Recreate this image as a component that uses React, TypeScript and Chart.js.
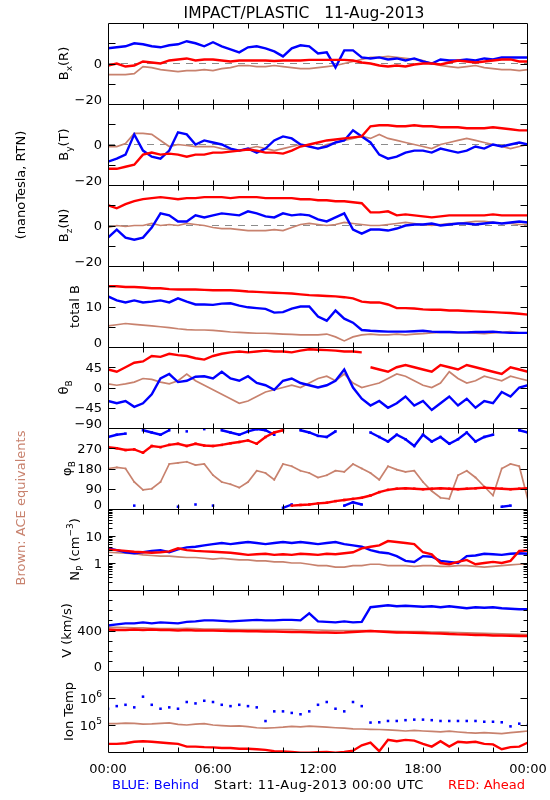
import React, { useEffect, useRef } from 'react';
import { Chart, registerables } from 'chart.js';

Chart.register(...registerables);

// ---------- time axis ----------
const HOURS = [0,0.5,1,1.5,2,2.5,3,3.5,4,4.5,5,5.5,6,6.5,7,7.5,8,8.5,9,9.5,10,10.5,11,11.5,12,12.5,13,13.5,14,14.5,15,15.5,16,16.5,17,17.5,18,18.5,19,19.5,20,20.5,21,21.5,22,22.5,23,23.5,24];
const X_TICK_HOURS = [2,4,6,8,10,12,14,16,18,20,22];
const X_LABEL_HOURS = [0,6,12,18,24];
const X_LABELS = ['00:00','06:00','12:00','18:00','00:00'];

// ---------- Bx (R) ----------
const BX_BEHIND = [7.5,8,8.5,10,9.5,8.5,8,9,9.5,11,10,8.5,10.5,8.5,7,5.5,8,8.5,7.5,6,3.5,7.5,9,8.5,5,5.5,-2,6.5,6.5,3,2.5,3,2,2.5,1.5,2.5,1,0,2,1.5,1.5,2,1.5,2.5,2,3,3,3,3];
const BX_AHEAD = [-1,0,-1.5,-1,1,0.5,0,1.5,2,2.5,1.5,2,2,1.5,1,1.5,1.5,1.5,1.5,1.2,1.5,1.5,1.5,1.8,1.8,1.8,1.8,1.8,1.5,0.5,0,-1,-1.5,-1,-1.5,-0.5,0,0,-0.5,0.5,1.5,1,0.5,1,1.5,2,2,1,1];
const BX_ACE = [-5.5,-5.5,-5.5,-5,-1.5,-2,-3,-3.5,-4,-3.5,-3.5,-3,-3.5,-2.5,-2,-1,-1,-1.5,-1.5,-1,-1.5,-2,-2.5,-2.5,-2,-1.5,-1,0,1,2,3,3,3.5,3,2.5,2,1.5,0,-1,-1.5,-2,-1.5,-1,-2,-2.5,-3,-3,-3.5,-3];

// ---------- By (T) ----------
const BY_BEHIND = [-8.5,-7,-5,5,-3,-6,-7,-3,6,5,0,2,1,0,-2,-3,-2,-4,-2,2,4,3,0,-1,-2,-1,1,2,7,4,1,-5,-7,-6,-4,-3,-3,-4,-2,-3,-4,-3,-1,-2,0,-1,0,1,0];
const BY_AHEAD = [-12,-12,-11,-10,-5,-4,-5,-4.5,-5,-6,-5,-5,-4,-4,-3.5,-3,-2.5,-3,-4,-4,-4.5,-3,-1,0,1,2,2.5,3,3.5,4,9,9.5,9.5,9,9,9.5,9,9,8.5,8.5,8.5,8,8,8,8.5,8,7.5,7,7];
const BY_ACE = [-1,-1,0.5,5.5,5.5,5,2,-1,0,-0.5,-1,-1,-1,-2,-2.5,-3,-2,-1,-2,-3,-2,-1,0,-1,-2,0,1,2,3,4,3,5,3,2,1,0,-1,-2,0,1,2,3,2,1,0,-1,-2,-1,0];

// ---------- Bz (N) ----------
const BZ_BEHIND = [-6,-2,-6,-7,-6,-1,6,5,2,2,5,4,5,6,5.5,5,7,6,4.5,4,6,5,5.5,5,3,2,4,6,-2,-4,-2,-2,-2.5,-1.5,0,0.5,0.5,1,0,0.5,1,1,0.5,1,1.5,1,1.5,2,1.5];
const BZ_AHEAD = [10,8.5,10.5,12,13,13.5,14,13.5,13,13.5,13.5,14,14,14,13.5,14,14,14,13.5,13.5,13.5,13.5,13,13,12.5,12.5,12,12,11.5,11,6.5,6.5,7,5,5.5,5,4.5,4,4.5,5,5,5,5,5,5.5,5,5,5,5];
const BZ_ACE = [-1,0,-0.5,0,0,1,0,0.5,0,1,0.5,0,-1,-1.5,-1.5,-2,-2.5,-2.5,-2.5,-2,-2.5,-1,0.5,1,0.5,0,0.5,1.5,1,0.5,0,0,0.5,1,1.5,1,0.5,0,0.5,1,1,1.5,2,2,1.5,1,1,0.5,0.5];

// ---------- total B ----------
const BT_BEHIND = [12.5,11.5,11,11.5,11,11.2,11.5,11,12,11.2,10.5,10.5,10.4,10.7,10.8,10.2,9.8,9.6,9.4,8.5,8.6,9.5,10,10,7.5,6.5,9,7,6,4.2,4,3.9,3.8,3.8,3.8,3.9,4,3.8,3.7,3.7,3.6,3.6,3.7,3.7,3.8,3.6,3.5,3.5,3.5];
const BT_AHEAD = [15,15,14.8,14.8,14.7,14.5,14.5,14.3,14.2,14.2,14.2,14.1,14,14,14,13.9,13.7,13.6,13.5,13.4,13.3,13.2,13,12.8,12.7,12.6,12.5,12.3,12,11.2,11,11,10.5,9.6,9.6,9.5,9.3,9.2,9.2,9,9,8.9,8.8,8.7,8.6,8.5,8.4,8.2,8];
const BT_ACE = [5.2,5.5,5.8,5.6,5.4,5.2,5,4.8,4.5,4.3,4.2,4.2,4.1,3.9,3.7,3.6,3.5,3.4,3.4,3.3,3.2,3.1,3,3,3,3.2,2.5,1.5,2.5,3,3.2,3,3,3.2,3,3.2,3.3,3.5,3.6,3.6,3.5,3.5,3.4,3.3,3.5,3.6,3.8,3.5,3.5];

// ---------- theta B ----------
const TH_BEHIND = [-30,-35,-30,-43,-35,-15,20,30,12,15,24,25,20,35,20,15,25,10,5,-5,15,20,10,5,0,5,15,40,0,-25,-40,-30,-45,-35,-20,-40,-30,-50,-35,-20,-40,-25,-45,-30,-35,-10,-20,0,5];
const TH_AHEAD = [40,35,45,55,58,70,68,75,72,70,65,62,70,75,78,80,78,80,82,80,80,78,82,85,84,83,82,80,80,78,45,40,35,45,50,45,40,35,50,45,40,50,45,40,35,30,45,40,35];
const TH_ACE = [8,5,8,12,20,18,12,8,15,30,15,5,-5,-15,-25,-35,-30,-20,-10,-5,0,5,0,10,20,25,15,30,10,0,5,10,20,30,25,15,5,0,10,35,20,10,15,25,20,15,25,20,15];

// ---------- phi B ----------
const PH_BEHIND = [320,330,335,15,350,340,330,350,10,345,20,355,15,350,340,330,345,355,350,330,5,20,350,340,325,320,345,15,30,20,340,320,300,330,310,280,330,300,320,290,310,340,300,320,330,10,15,350,340];
const PH_AHEAD = [275,270,262,265,250,280,275,285,290,280,290,282,280,285,292,298,305,290,320,340,350,15,18,20,25,28,35,40,45,50,60,75,85,90,92,90,88,90,92,90,88,90,92,95,92,90,88,90,92];
const PH_ACE = [180,185,180,120,85,90,120,200,205,210,195,200,150,120,110,95,120,170,160,130,200,190,170,160,140,150,170,165,200,180,160,130,190,175,165,170,120,80,50,45,150,170,140,100,60,180,200,190,40];

// ---------- proton density (cm^-3) ----------
const NP_BEHIND = [3.5,3,2.5,2.3,2.5,2.8,3,2.5,3.2,3.8,4,4.5,5,5.5,5,5.5,6,5.5,5,5.5,6,5.5,6,5.5,5,5.5,6,5,4.5,4,3,2.5,2.3,1.8,1.2,1.1,1.8,1.7,1.2,1.1,1.0,1.8,1.9,2.2,2.1,2.0,2.2,2.3,2.2];
const NP_AHEAD = [3.2,3,2.8,2.6,2.5,2.4,2.5,2.7,3.5,3,2.8,2.7,2.6,2.5,2.4,2.2,2.0,2.1,2.2,2.0,2.1,2.0,2.2,2.1,2.0,2.2,2.1,2.3,2.5,3.5,4,4.5,6.5,6,5.5,5,2.5,2.1,1.0,0.9,1.1,1.3,0.9,1.0,1.1,1.0,1.2,2.8,2.9];
const NP_ACE = [2.5,2.4,2.3,2.2,2.0,1.9,1.8,1.8,1.7,1.6,1.6,1.5,1.4,1.5,1.4,1.3,1.3,1.2,1.2,1.1,1.1,1.0,1.0,0.9,0.8,0.8,0.7,0.7,0.8,0.8,0.9,0.9,0.8,0.8,0.8,0.75,0.8,0.8,0.75,0.75,0.8,0.8,0.75,0.7,0.75,0.8,0.85,0.9,0.9];

// ---------- speed (km/s) ----------
const V_BEHIND = [450,460,470,470,480,470,480,475,470,485,490,500,500,495,490,495,500,505,500,500,505,505,500,570,490,485,480,490,480,485,630,640,650,640,645,640,635,640,630,640,630,620,630,625,630,620,615,610,610];
const V_AHEAD = [410,405,405,410,405,410,405,405,400,405,400,400,400,398,395,395,392,392,390,390,388,385,385,382,380,380,378,380,385,390,395,390,385,380,380,378,375,372,370,365,362,360,355,355,350,350,348,345,345];
const V_ACE = [430,430,428,425,425,422,420,420,418,420,418,415,415,415,412,410,410,408,408,410,410,408,405,405,405,402,400,400,398,400,398,395,395,392,390,390,388,385,385,382,380,378,375,372,370,368,365,362,360];

// ---------- ion temperature (K) ----------
const T_BEHIND = [400000,500000,560000,450000,1120000,560000,400000,450000,400000,710000,630000,790000,710000,560000,500000,560000,500000,450000,140000,320000,320000,280000,250000,320000,560000,710000,400000,320000,710000,500000,123000,126000,141000,141000,151000,158000,158000,151000,141000,141000,141000,141000,141000,132000,132000,126000,89000,112000,100000];
const T_AHEAD = [20000,20000,21000,24000,25000,24000,22400,21000,20000,15800,15800,15100,14800,14100,14100,13200,13200,12600,12000,10700,10500,10000,9500,9500,9800,10000,9500,10000,11200,17800,22400,10700,28200,25100,28200,26300,20000,15800,25100,15800,24000,22400,24000,20000,19100,12600,15100,15800,22400];
const T_ACE = [112000,112000,117000,115000,107000,110000,115000,120000,105000,100000,107000,112000,100000,95000,91000,93000,87000,79000,76000,79000,83000,89000,85000,91000,87000,83000,79000,76000,72000,71000,69000,68000,66000,63000,60000,63000,60000,58000,56000,59000,55000,52000,50000,52000,50000,48000,52000,56000,60000];

// ---------- y tick marks and labels ----------
const B_MAJOR = [-10, 0, 10];
const B_LABEL_VALUES = [0, -20];
const B_LABELS = ['0', '−20'];
const BT_MAJOR = [5, 10, 15];
const BT_LABEL_VALUES = [10, 0];
const BT_LABELS = ['10', '0'];
const TH_MAJOR = [-45, 0, 45];
const TH_LABEL_VALUES = [45, 0, -45, -90];
const TH_LABELS = ['45', '0', '−45', '−90'];
const PH_MAJOR = [90, 180, 270];
const PH_LABEL_VALUES = [270, 180, 90, 0];
const PH_LABELS = ['270', '180', '90', '0'];
const NP_MAJOR = [1, 10];
const NP_MINOR = [0.2,0.3,0.4,0.5,0.6,0.7,0.8,0.9,2,3,4,5,6,7,8,9,20,30,40,50,60,70,80,90];
const NP_LABEL_VALUES = [10, 1];
const NP_LABELS = ['10', '1'];
const V_MAJOR = [400];
const V_MINOR = [100, 200, 300, 500, 600, 700];
const V_LABEL_VALUES = [400, 0];
const V_LABELS = ['400', '0'];
const T_MAJOR = [100000, 1000000];
const T_LABEL_VALUES = [1000000, 100000];
const T_LABELS = ['10^{6}', '10^{5}'];

const FONT = "'DejaVu Sans', 'Liberation Sans', sans-serif";
const BLUE = '#0000ff';
const RED = '#ff0000';
const BROWN = '#c8826e';

type Panel = {
  kind: 'linear' | 'logarithmic';
  min: number; max: number;
  major: number[]; minor: number[];
  labelValues: number[]; labels: string[];
  title: string;
  zero?: boolean;
  behind: number[]; ahead: number[]; ace: number[];
  wrap?: number; aheadGap?: number; dotsBehind?: boolean;
};

const PANELS: Panel[] = [
  { kind: 'linear', min: -20, max: 20, major: B_MAJOR, minor: [], labelValues: B_LABEL_VALUES, labels: B_LABELS, title: 'B_{x}(R)', zero: true, behind: BX_BEHIND, ahead: BX_AHEAD, ace: BX_ACE },
  { kind: 'linear', min: -20, max: 20, major: B_MAJOR, minor: [], labelValues: B_LABEL_VALUES, labels: B_LABELS, title: 'B_{y}(T)', zero: true, behind: BY_BEHIND, ahead: BY_AHEAD, ace: BY_ACE },
  { kind: 'linear', min: -20, max: 20, major: B_MAJOR, minor: [], labelValues: B_LABEL_VALUES, labels: B_LABELS, title: 'B_{z}(N)', zero: true, behind: BZ_BEHIND, ahead: BZ_AHEAD, ace: BZ_ACE },
  { kind: 'linear', min: 0, max: 20, major: BT_MAJOR, minor: [], labelValues: BT_LABEL_VALUES, labels: BT_LABELS, title: 'total B', behind: BT_BEHIND, ahead: BT_AHEAD, ace: BT_ACE },
  { kind: 'linear', min: -90, max: 90, major: TH_MAJOR, minor: [], labelValues: TH_LABEL_VALUES, labels: TH_LABELS, title: 'θ_{B}', behind: TH_BEHIND, ahead: TH_AHEAD, ace: TH_ACE, aheadGap: 30 },
  { kind: 'linear', min: 0, max: 360, major: PH_MAJOR, minor: [], labelValues: PH_LABEL_VALUES, labels: PH_LABELS, title: 'φ_{B}', behind: PH_BEHIND, ahead: PH_AHEAD, ace: PH_ACE, wrap: 180 },
  { kind: 'logarithmic', min: 0.1, max: 100, major: NP_MAJOR, minor: NP_MINOR, labelValues: NP_LABEL_VALUES, labels: NP_LABELS, title: 'N_{P} (cm^{−3})', behind: NP_BEHIND, ahead: NP_AHEAD, ace: NP_ACE },
  { kind: 'linear', min: 0, max: 800, major: V_MAJOR, minor: V_MINOR, labelValues: V_LABEL_VALUES, labels: V_LABELS, title: 'V (km/s)', behind: V_BEHIND, ahead: V_AHEAD, ace: V_ACE },
  { kind: 'logarithmic', min: 10000, max: 10000000, major: T_MAJOR, minor: [], labelValues: T_LABEL_VALUES, labels: T_LABELS, title: 'Ion Temp', behind: T_BEHIND, ahead: T_AHEAD, ace: T_ACE, dotsBehind: true },
];

// ---------- rich text helpers ----------
type Seg = { t: string; k: 'n' | 'sub' | 'sup' };
function parseRich(s: string): Seg[] {
  const out: Seg[] = [];
  const re = /([_^])\{([^}]*)\}/g;
  let last = 0;
  let m: RegExpExecArray | null;
  while ((m = re.exec(s))) {
    if (m.index > last) out.push({ t: s.slice(last, m.index), k: 'n' });
    out.push({ t: m[2], k: m[1] === '_' ? 'sub' : 'sup' });
    last = re.lastIndex;
  }
  if (last < s.length) out.push({ t: s.slice(last), k: 'n' });
  return out;
}
const fnt = (size: number) => `${size}px ${FONT}`;
function segSize(k: string, size: number) { return k === 'n' ? size : Math.round(size * 0.72); }
function richWidth(ctx: CanvasRenderingContext2D, segs: Seg[], size: number) {
  let w = 0;
  for (const sg of segs) { ctx.font = fnt(segSize(sg.k, size)); w += ctx.measureText(sg.t).width; }
  return w;
}
function drawRich(ctx: CanvasRenderingContext2D, x: number, baseline: number, segs: Seg[], size: number) {
  let cx = x;
  for (const sg of segs) {
    ctx.font = fnt(segSize(sg.k, size));
    const dy = sg.k === 'sub' ? size * 0.32 : sg.k === 'sup' ? -size * 0.45 : 0;
    ctx.fillText(sg.t, cx, baseline + dy);
    cx += ctx.measureText(sg.t).width;
  }
}
function drawRotated(ctx: CanvasRenderingContext2D, cx: number, cy: number, text: string, size: number, color: string) {
  const segs = parseRich(text);
  ctx.save();
  ctx.fillStyle = color;
  ctx.textAlign = 'left';
  ctx.textBaseline = 'alphabetic';
  ctx.translate(cx, cy);
  ctx.rotate(-Math.PI / 2);
  const w = richWidth(ctx, segs, size);
  drawRich(ctx, -w / 2, size * 0.36, segs, size);
  ctx.restore();
}

const framePlugin = {
  id: 'panelFrames',
  beforeDatasetDraw(chart: any, args: any) {
    const ys = args.meta.yScale;
    const a = chart.chartArea;
    chart.ctx.save();
    chart.ctx.beginPath();
    chart.ctx.rect(a.left, ys.top, a.right - a.left, ys.bottom - ys.top);
    chart.ctx.clip();
  },
  afterDatasetDraw(chart: any) {
    chart.ctx.restore();
  },
  afterDraw(chart: any) {
    const ctx: CanvasRenderingContext2D = chart.ctx;
    const a = chart.chartArea;
    const xs = chart.scales.x;
    const left = Math.round(a.left) + 0.5;
    const right = Math.round(a.right) - 0.5;
    const labelRight = a.left - 6;
    ctx.save();
    ctx.strokeStyle = '#000';
    ctx.lineWidth = 1;
    PANELS.forEach((p, i) => {
      const ys = chart.scales['y' + i];
      const top = Math.round(ys.top) + 0.5;
      const bottom = Math.round(ys.bottom) + 0.5;
      ctx.beginPath();
      ctx.rect(left, top, right - left, bottom - top);
      for (const h of X_TICK_HOURS) {
        const px = Math.round(xs.getPixelForValue(h)) + 0.5;
        ctx.moveTo(px, top); ctx.lineTo(px, top + 5);
        ctx.moveTo(px, bottom); ctx.lineTo(px, bottom - 5);
      }
      const tick = (v: number, len: number) => {
        const py = Math.round(ys.getPixelForValue(v)) + 0.5;
        ctx.moveTo(left, py); ctx.lineTo(left + len, py);
        ctx.moveTo(right, py); ctx.lineTo(right - len, py);
      };
      p.major.forEach(v => tick(v, 7));
      p.minor.forEach(v => tick(v, 4));
      ctx.stroke();

      // tick labels
      ctx.fillStyle = '#000';
      ctx.textAlign = 'left';
      ctx.textBaseline = 'alphabetic';
      let maxW = 0;
      p.labelValues.forEach((v, j) => {
        const segs = parseRich(p.labels[j]);
        const w = richWidth(ctx, segs, 13);
        maxW = Math.max(maxW, w);
        let py = ys.getPixelForValue(v);
        if (v === p.min) py -= 4.5;
        drawRich(ctx, labelRight - w, py + 4.7, segs, 13);
      });
      // axis title
      const cx = labelRight - maxW - 11;
      drawRotated(ctx, cx, (ys.top + ys.bottom) / 2, p.title, 13, '#000');
    });

    // x labels
    ctx.fillStyle = '#000';
    ctx.font = fnt(13);
    ctx.textAlign = 'center';
    ctx.textBaseline = 'alphabetic';
    X_LABEL_HOURS.forEach((h, j) => {
      ctx.fillText(X_LABELS[j], xs.getPixelForValue(h), 773);
    });

    // title
    ctx.font = fnt(15.5);
    ctx.fillText('IMPACT/PLASTIC   11-Aug-2013', 304, 18);

    // footer
    ctx.font = fnt(13);
    ctx.textAlign = 'left';
    ctx.fillStyle = BLUE;
    ctx.fillText('BLUE: Behind', 112, 789);
    ctx.textAlign = 'center';
    ctx.fillStyle = '#000';
    (ctx as any).letterSpacing = '0.5px';
    ctx.fillText('Start: 11-Aug-2013 00:00 UTC', 319, 789);
    (ctx as any).letterSpacing = '0px';
    ctx.textAlign = 'right';
    ctx.fillStyle = RED;
    ctx.fillText('RED: Ahead', 525, 789);

    // side labels
    drawRotated(ctx, 20, 185, '(nanoTesla, RTN)', 13, '#000');
    drawRotated(ctx, 20, 508, 'Brown: ACE equivalents', 13, BROWN);
    ctx.restore();
  },
};

function series(arr: number[], yAxisID: string, color: string, width: number, extra: any = {}) {
  return {
    data: HOURS.map((h, i) => ({ x: h, y: arr[i] })),
    yAxisID,
    xAxisID: 'x',
    borderColor: color,
    backgroundColor: color,
    borderWidth: width,
    pointRadius: 0,
    pointHoverRadius: 0,
    tension: 0,
    spanGaps: false,
    ...extra,
  };
}
function gapSegment(gap: number, log: boolean) {
  return {
    borderColor: (c: any) => {
      const a = c.p0.parsed.y, b = c.p1.parsed.y;
      const d = log ? Math.abs(Math.log10(b) - Math.log10(a)) : Math.abs(b - a);
      return d > gap ? 'rgba(0,0,0,0)' : undefined;
    },
  };
}

function buildConfig(): any {
  const scales: any = {
    x: {
      type: 'linear', position: 'bottom', min: 0, max: 24,
      grid: { display: false, drawTicks: false }, border: { display: false },
      ticks: { display: false },
      afterFit: (s: any) => { s.height = 48; s.paddingLeft = 0; s.paddingRight = 0; },
    },
  };
  const datasets: any[] = [];
  const zeroSets: any[] = [];
  PANELS.forEach((p, i) => {
    const id = 'y' + i;
    scales[id] = {
      type: p.kind, position: 'left', stack: 'panels', stackWeight: 1, weight: PANELS.length - i,
      min: p.min, max: p.max,
      grid: { display: false, drawTicks: false }, border: { display: false },
      ticks: { display: false },
      afterFit: (s: any) => { s.width = 108; s.paddingTop = 0; s.paddingBottom = 0; },
    };
    const log = p.kind === 'logarithmic';
    const aheadExtra: any = {};
    const behindExtra: any = {};
    const aceExtra: any = {};
    if (p.wrap) {
      const seg = gapSegment(p.wrap, false);
      Object.assign(aheadExtra, { segment: seg, pointRadius: 1.8, pointStyle: 'rect', pointBorderWidth: 0 });
      Object.assign(behindExtra, { segment: seg, pointRadius: 1.8, pointStyle: 'rect', pointBorderWidth: 0 });
      Object.assign(aceExtra, { segment: seg, pointRadius: 1.2, pointStyle: 'rect', pointBorderWidth: 0 });
    }
    if (p.aheadGap) Object.assign(aheadExtra, { segment: gapSegment(p.aheadGap, log) });
    if (p.dotsBehind) Object.assign(behindExtra, { showLine: false, pointRadius: 1.8, pointStyle: 'rect', pointBorderWidth: 0 });
    datasets.push(series(p.ahead, id, RED, 2.4, aheadExtra));
    datasets.push(series(p.behind, id, BLUE, 2.4, behindExtra));
    datasets.push(series(p.ace, id, BROWN, 1.7, aceExtra));
    if (p.zero) {
      zeroSets.push({
        data: [{ x: 0, y: 0 }, { x: 24, y: 0 }], yAxisID: id, xAxisID: 'x',
        borderColor: '#8c8c8c', borderWidth: 1, borderDash: [7, 6], pointRadius: 0, pointHoverRadius: 0,
      });
    }
  });
  return {
    type: 'line',
    data: { datasets: datasets.concat(zeroSets) },
    options: {
      responsive: false,
      animation: false,
      devicePixelRatio: 1,
      events: [],
      layout: { padding: { top: 23, right: 22, bottom: 0, left: 0 } },
      plugins: { legend: { display: false }, tooltip: { enabled: false }, title: { display: false } },
      scales,
    },
    plugins: [framePlugin],
  };
}

export default function App() {
  const ref = useRef<HTMLCanvasElement | null>(null);
  useEffect(() => {
    Chart.defaults.font.family = FONT;
    const chart = new Chart(ref.current as HTMLCanvasElement, buildConfig());
    return () => chart.destroy();
  }, []);
  return (
    <div style={{ position: 'absolute', left: 0, top: 0, width: 550, height: 800, background: '#fff' }}>
      <canvas ref={ref} width={550} height={800} style={{ display: 'block', width: 550, height: 800 }} />
    </div>
  );
}
